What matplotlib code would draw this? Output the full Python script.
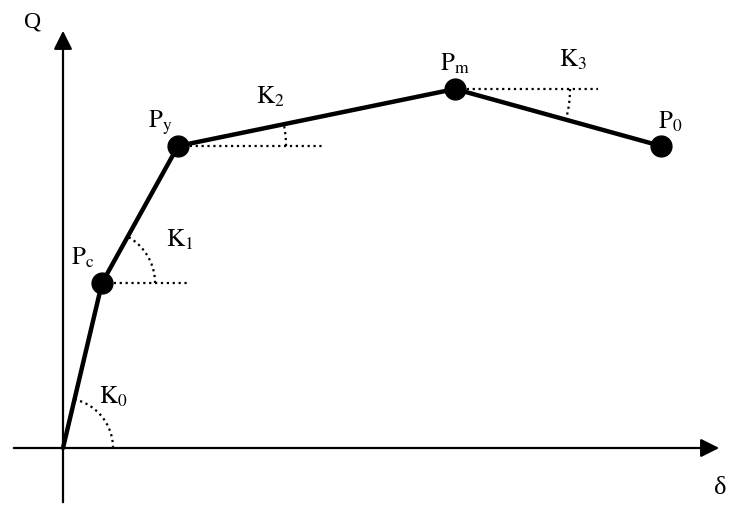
import numpy as np
from matplotlib import pyplot as plt

plt.rcParams['mathtext.fontset'] = 'stix'
plt.rcParams['font.family'] = ['Liberation Serif', 'DejaVu Serif']

# key points of the skeleton curve (delta, Q)
names = ['O', 'P_c', 'P_y', 'P_m', 'P_0']
delta = [0, 39, 115, 392, 598]
Q = [0, 165, 302, 359, 302]

# stiffness labels
k_names = ['K_0', 'K_1', 'K_2', 'K_3']

fig = plt.figure(figsize=(7.3, 5.13), dpi=100)
ax = fig.add_axes([0, 0, 1, 1])
ax.set_xlim(-63, 667)
ax.set_ylim(-65, 448)
ax.axis('off')

# axes with arrows
ax.annotate('', xy=(659, 0), xytext=(-52, 0),
            arrowprops=dict(arrowstyle='-|>', color='black', lw=1.6,
                            mutation_scale=28))
ax.annotate('', xy=(0, 420), xytext=(0, -57),
            arrowprops=dict(arrowstyle='-|>', color='black', lw=1.6,
                            mutation_scale=28))
ax.text(-30, 426, 'Q', fontsize=17, ha='center', va='center')
ax.text(657, -40, 'δ', fontsize=19, ha='center', va='center')

# the curve
ax.plot(delta, Q, color='black', lw=3.2, solid_capstyle='round')
ax.plot(delta[1:], Q[1:], 'o', color='black', markersize=15)

# dotted reference lines and arcs
hlen = [50, 86, 144, 143]
radii = [50, 53, 108, 115]
for i in range(4):
    x0, y0 = delta[i], Q[i]
    x1, y1 = delta[i + 1], Q[i + 1]
    ang = np.arctan2(y1 - y0, x1 - x0)
    if i > 0:
        ax.plot([x0, x0 + hlen[i]], [y0, y0], ':', color='black', lw=1.6)
    t = np.linspace(0, ang, 40)
    ax.plot(x0 + radii[i] * np.cos(t), y0 + radii[i] * np.sin(t), ':',
            color='black', lw=1.6)

# point labels
lab_pos = {'P_c': (20, 190), 'P_y': (97, 325), 'P_m': (392, 384), 'P_0': (607, 326)}
for n in names[1:]:
    x, y = lab_pos[n]
    ax.text(x, y, r'$\mathrm{' + n + '}$', fontsize=18, ha='center', va='center')

k_pos = [(50, 51), (117, 208), (207, 351), (510, 388)]
for n, (x, y) in zip(k_names, k_pos):
    ax.text(x, y, r'$\mathrm{' + n + '}$', fontsize=18, ha='center', va='center')

plt.savefig('out.png', dpi=100)
